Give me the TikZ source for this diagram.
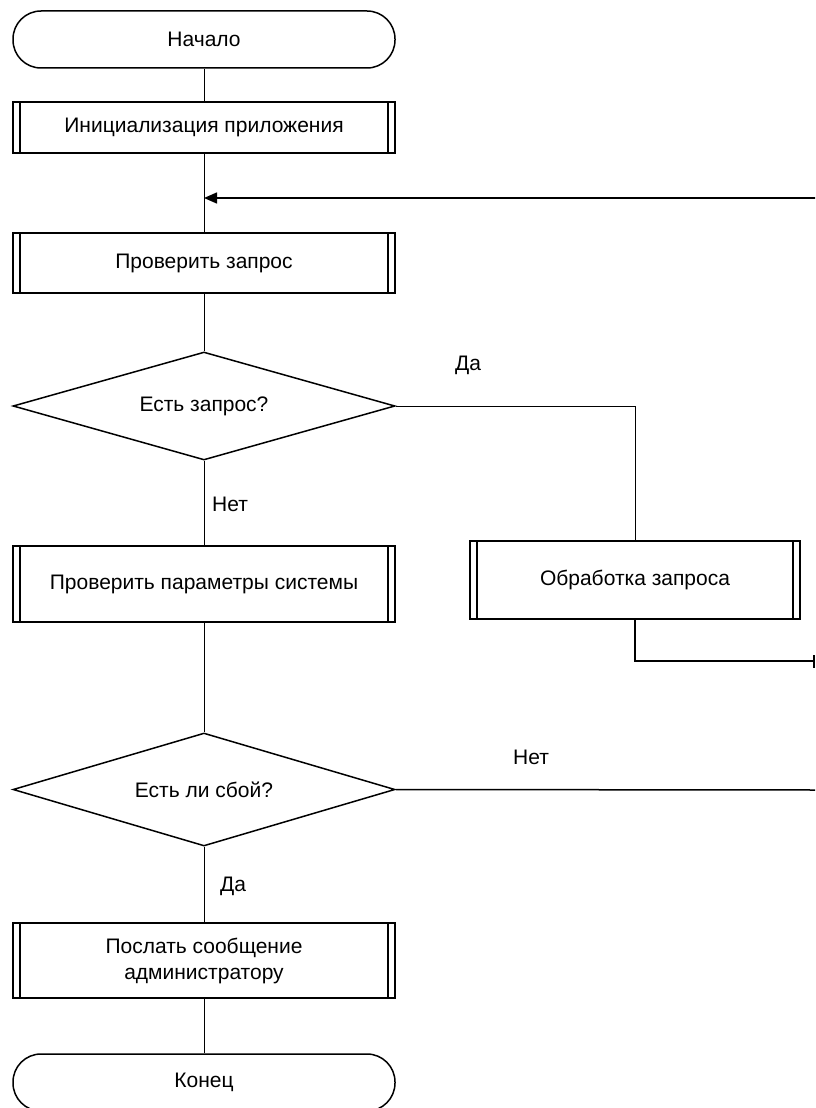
\documentclass[tikz,border=0pt]{standalone}
\usepackage{fontspec}
\setmainfont{Liberation Sans}
\usetikzlibrary{shapes.geometric,arrows.meta}
\begin{document}
\begin{tikzpicture}[x=1pt,y=-1pt,
  every node/.style={font=\fontsize{21}{26}\selectfont},
  term/.style={draw,line width=1.5pt,rectangle,rounded corners=28pt,minimum width=382pt,minimum height=57pt,inner sep=0pt},
  predef/.style={draw,line width=1.5pt,rectangle,minimum width=382pt,inner sep=0pt,align=center,
    path picture={\draw[line width=1.3pt] ([xshift=7pt]path picture bounding box.north west) -- ([xshift=7pt]path picture bounding box.south west);
                  \draw[line width=1.3pt] ([xshift=-7pt]path picture bounding box.north east) -- ([xshift=-7pt]path picture bounding box.south east);}},
  decision/.style={draw,line width=1.5pt,diamond,inner sep=0pt,minimum width=382pt,aspect=3.45},
  conn/.style={line width=1pt},
  lbl/.style={inner sep=0pt}]
\clip (0,0) rectangle (815,1108);
\fill[white] (0,0) rectangle (815,1108);
\node[term] (start) at (204,39.5) {Начало};
\node[predef,minimum height=51pt] (init) at (204,127.5) {Инициализация приложения};
\node[predef,minimum height=60pt] (check) at (204,263) {Проверить запрос};
\node[decision,minimum height=108pt] (d1) at (204,406) {Есть запрос?};
\node[predef,minimum height=76pt] (params) at (204,584) {Проверить параметры системы};
\node[predef,minimum width=330pt,minimum height=78pt] (proc) at (635,580) {Обработка запроса};
\node[decision,minimum height=113pt] (d2) at (204,789.5) {Есть ли сбой?};
\node[predef,minimum height=75pt] (send) at (204,960.5) {Послать сообщение\\администратору};
\node[term] (end) at (204,1082.5) {Конец};

\coordinate (j1) at (204,198);
\coordinate (rtop) at (818,198);
\coordinate (rmid) at (814,661);
\coordinate (rbot) at (818,790);

\draw[conn] (start) -- (init);
\draw[conn] (init) -- (check);
\draw[line width=1.5pt,-{Triangle[length=13pt,width=11pt]}] (rtop) -- (j1);
\draw[conn] (check) -- (d1);
\draw[conn] (d1) -- (params);
\draw[conn] (d1.east) -| (proc.north);
\draw[line width=1.5pt] (proc.south) |- (rmid);
\draw[line width=1.3pt] (814,655) -- (814,668);
\draw[conn] (params) -- (d2);
\draw[line width=1.5pt] (d2.east) -- (rbot);
\draw[conn] (d2) -- (send);
\draw[conn] (send) -- (end);

\node[lbl] (l1) at (468,365) {Да};
\node[lbl] (l2) at (230,504) {Нет};
\node[lbl] (l3) at (531,757) {Нет};
\node[lbl] (l4) at (233,886) {Да};
\end{tikzpicture}
\end{document}
